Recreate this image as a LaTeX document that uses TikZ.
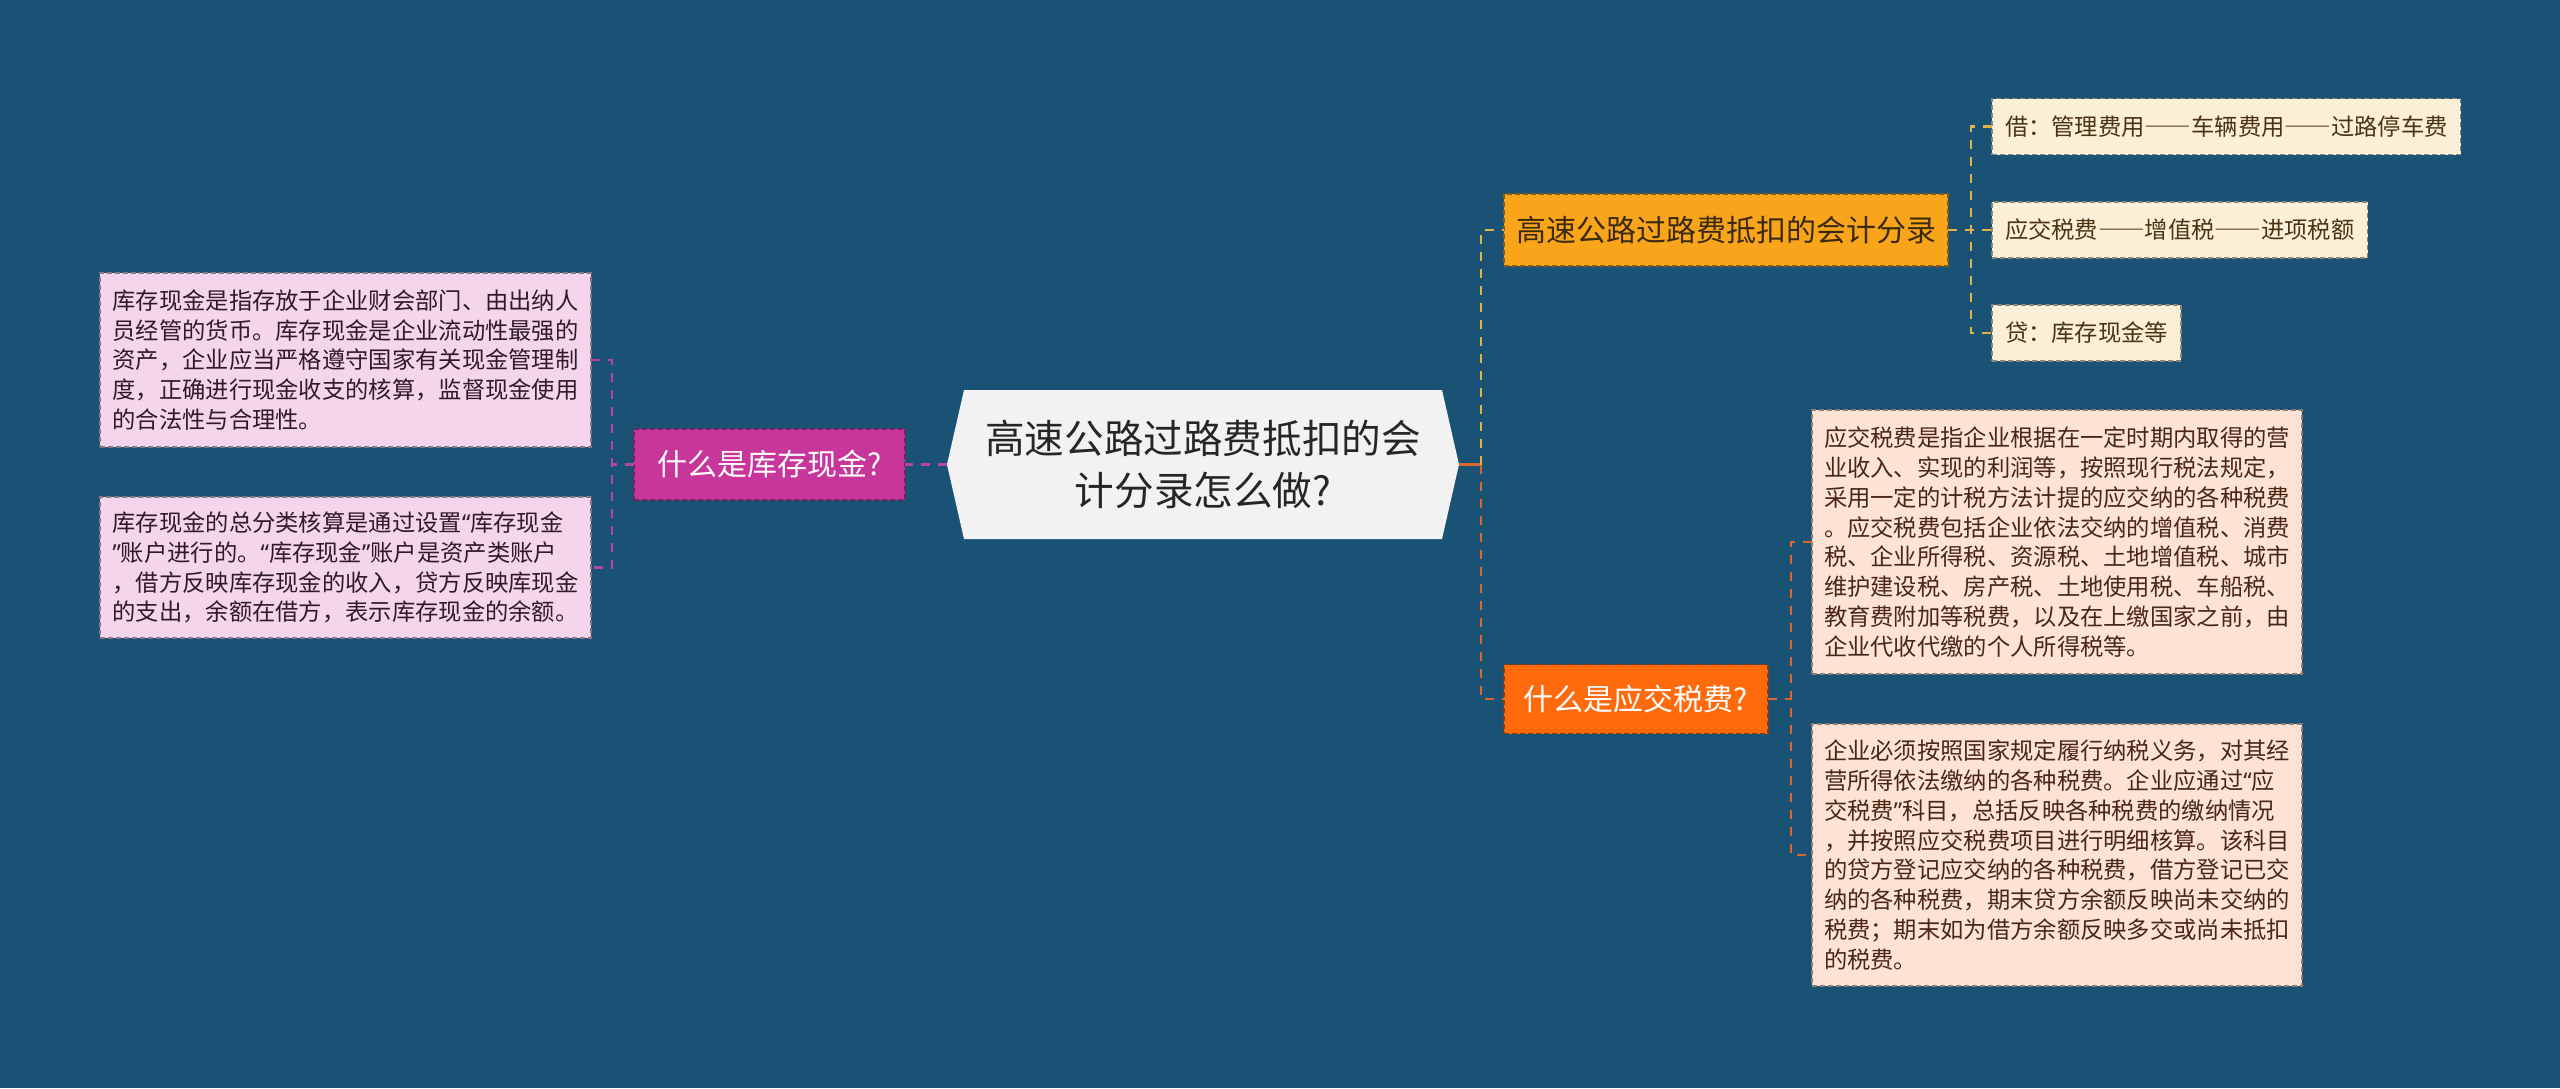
\documentclass[tikz,border=0pt]{standalone}
\usepackage{fontspec}
\setmainfont{Noto Sans CJK SC}
\newfontfamily\qfont{Noto Sans}
\newcommand{\myoq}{{\qfont “}}
\newcommand{\mycq}{{\qfont ”}}
\newcommand{\mydash}{{\addfontfeatures{RawFeature=+fwid}——}}
\usetikzlibrary{backgrounds,calc}
\definecolor{bgc}{HTML}{1A5276}
\definecolor{rootfill}{HTML}{F2F2F2}
\definecolor{roottext}{HTML}{262626}
\definecolor{magfill}{HTML}{C8369C}
\definecolor{magline}{HTML}{B5469E}
\definecolor{pinkfill}{HTML}{F5D5EB}
\definecolor{pinktext}{HTML}{2E1A28}
\definecolor{orgfill}{HTML}{F8A51C}
\definecolor{orgtext}{HTML}{3B2A0E}
\definecolor{creamfill}{HTML}{FCEFD7}
\definecolor{creamtext}{HTML}{4A3314}
\definecolor{redfill}{HTML}{FF6A0C}
\definecolor{peachfill}{HTML}{FDE3D4}
\definecolor{peachtext}{HTML}{4A2614}
\definecolor{yelline}{HTML}{E0B347}
\definecolor{orgline}{HTML}{D9672D}
\begin{document}
\begin{tikzpicture}[x=1pt,y=-1pt,
  every node/.style={inner sep=0pt, outer sep=0pt},
  box/.style={line width=1.4pt, dash pattern=on 5pt off 3pt, align=left, anchor=center},
  leaftext/.style={font=\fontsize{23.3}{29.8}\selectfont},
  branchtext/.style={font=\fontsize{30}{36}\selectfont},
  link/.style={line width=2.5pt, dash pattern=on 9pt off 8pt},
  pinkleaf/.style={box, leaftext, fill=pinkfill, draw=pinkfill!55!black, text=pinktext},
  creamleaf/.style={box, leaftext, fill=creamfill, draw=creamfill!55!black, text=creamtext, inner xsep=13pt, minimum height=56pt, anchor=west},
  peachleaf/.style={box, leaftext, fill=peachfill, draw=peachfill!55!black, text=peachtext},
]
\useasboundingbox (0,0) rectangle (2560,1088);

% root
\node[font=\fontsize{39.6}{52}\selectfont, align=center, text=roottext,
      minimum width=478pt, minimum height=149pt] (root) at (1203,464.5)
      {高速公路过路费抵扣的会\\计分录怎么做?};
\coordinate (rootL) at ([xshift=-17pt]root.west);
\coordinate (rootR) at ([xshift=17pt]root.east);

\begin{scope}[on background layer]
  \fill[bgc] (0,0) rectangle (2560,1088);
  \fill[rootfill] (root.north west) -- (root.north east) -- (rootR)
    -- (root.south east) -- (root.south west) -- (rootL) -- cycle;
\end{scope}

% left branch
\node[box, branchtext, fill=magfill, draw=magfill!60!black, text=white,
      minimum width=271pt, minimum height=71pt] (lb) at (769.5,464.5) {什么是库存现金?};
\node[pinkleaf, minimum width=491pt, minimum height=174pt] (ll1) at (345.5,360)
{库存现金是指存放于企业财会部门、由出纳人\\
员经管的货币。库存现金是企业流动性最强的\\
资产，企业应当严格遵守国家有关现金管理制\\
度，正确进行现金收支的核算，监督现金使用\\
的合法性与合理性。};
\node[pinkleaf, minimum width=491pt, minimum height=141pt] (ll2) at (345.5,567.5)
{库存现金的总分类核算是通过设置\myoq 库存现金\\
\mycq 账户进行的。\myoq 库存现金\mycq 账户是资产类账户\\
，借方反映库存现金的收入，贷方反映库现金\\
的支出，余额在借方，表示库存现金的余额。};

% right branches
\node[box, branchtext, fill=orgfill, draw=orgfill!55!black, text=orgtext,
      minimum width=444pt, minimum height=72pt] (rb1) at (1726,230) {高速公路过路费抵扣的会计分录};
\node[box, branchtext, fill=redfill, draw=redfill!55!black, text=white,
      minimum width=264pt, minimum height=69pt] (rb2) at (1636,699) {什么是应交税费?};

% top-right leaves
\node[creamleaf] (rl1) at (1992,126.5) {借：管理费用\mydash 车辆费用\mydash 过路停车费};
\node[creamleaf] (rl2) at (1992,230) {应交税费\mydash 增值税\mydash 进项税额};
\node[creamleaf] (rl3) at (1992,333) {贷：库存现金等};

% bottom-right leaves
\node[peachleaf, minimum width=490pt, minimum height=264pt] (rl4) at (2057,542)
{应交税费是指企业根据在一定时期内取得的营\\
业收入、实现的利润等，按照现行税法规定，\\
采用一定的计税方法计提的应交纳的各种税费\\
。应交税费包括企业依法交纳的增值税、消费\\
税、企业所得税、资源税、土地增值税、城市\\
维护建设税、房产税、土地使用税、车船税、\\
教育费附加等税费，以及在上缴国家之前，由\\
企业代收代缴的个人所得税等。};
\node[peachleaf, minimum width=490pt, minimum height=262pt] (rl5) at (2057,855)
{企业必须按照国家规定履行纳税义务，对其经\\
营所得依法缴纳的各种税费。企业应通过\myoq 应\\
交税费\mycq 科目，总括反映各种税费的缴纳情况\\
，并按照应交税费项目进行明细核算。该科目\\
的贷方登记应交纳的各种税费，借方登记已交\\
纳的各种税费，期末贷方余额反映尚未交纳的\\
税费；期末如为借方余额反映多交或尚未抵扣\\
的税费。};

% connectors left
\coordinate (lj) at ([xshift=-22pt]lb.west);
\draw[link, magline] (rootL) -- (lb.east);
\draw[link, magline] (lb.west) -- (lj);
\draw[link, magline] (ll1.east) -| (lj) |- (ll2.east);

% connectors right
\coordinate (rj) at ([xshift=22pt]rootR);
\draw[orgline, line width=2.5pt] (rootR) -- (rj);
\draw[link, yelline] (rj) |- (rb1.west);
\draw[link, orgline] (rj) |- (rb2.west);

\coordinate (tj) at ([xshift=23pt]rb1.east);
\draw[link, yelline] (rb1.east) -- (rl2.west);
\draw[link, yelline] (rl1.west) -| (tj) |- (rl3.west);

\coordinate (bj) at ([xshift=23pt]rb2.east);
\draw[link, orgline] (rb2.east) -- (bj);
\draw[link, orgline] (rl4.west) -| (bj) |- (rl5.west);
\end{tikzpicture}
\end{document}
